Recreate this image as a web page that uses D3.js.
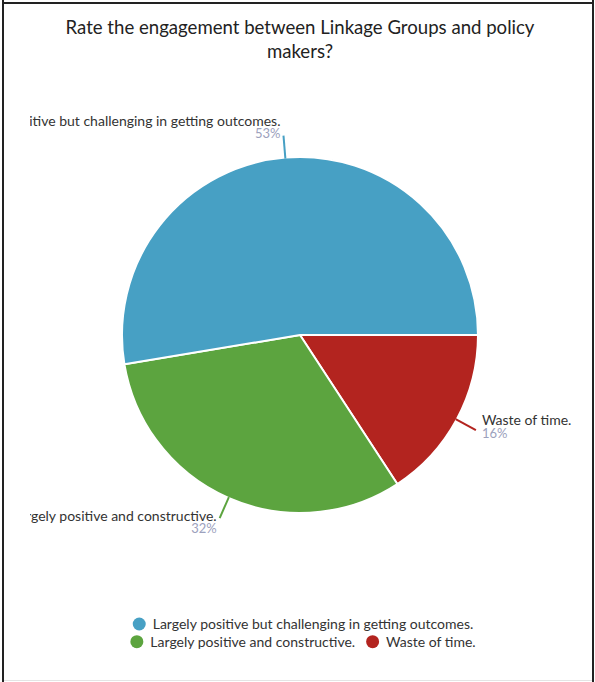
<!DOCTYPE html>
<html>
<head>
<meta charset="utf-8">
<script src="https://cdn.jsdelivr.net/npm/d3@7"></script>
<style>
  body { margin: 0; background: #fff; }
  svg { display: block; font-family: Lato, "Open Sans", sans-serif; }
</style>
</head>
<body>
<svg id="chart" width="595" height="682"></svg>
<script>
// data (10 / 6 / 3 answers -> 53% / 32% / 16%)
const categories = [
  "Waste of time.",
  "Largely positive and constructive.",
  "Largely positive but challenging in getting outcomes."
]
const counts = [3, 6, 10]
const colors = ["#b3241f", "#5ca43f", "#47a0c4"]
const legendOrder = [2, 1, 0]
const titleLines = ["Rate the engagement between Linkage Groups and policy", "makers?"]

const W = 595, H = 682
const cx = 300, cy = 335, R = 178

const svg = d3.select('#chart')

// frame round the picture
svg.append('line').attr('x1', 3).attr('y1', 0).attr('x2', 3).attr('y2', H)
  .attr('stroke', '#222').attr('stroke-width', 2)
svg.append('line').attr('x1', 593).attr('y1', 0).attr('x2', 593).attr('y2', H)
  .attr('stroke', '#222').attr('stroke-width', 2)
svg.append('line').attr('x1', 2).attr('y1', 3).attr('x2', 594).attr('y2', 3)
  .attr('stroke', '#222').attr('stroke-width', 2)
svg.append('line').attr('x1', 4).attr('y1', 680.5).attr('x2', 592).attr('y2', 680.5)
  .attr('stroke', '#e4e4e4').attr('stroke-width', 1)

// title
svg.append('text')
  .attr('text-anchor', 'middle')
  .attr('fill', '#222')
  .style('font-size', '18.6px')
  .selectAll('tspan')
  .data(titleLines)
  .join('tspan')
  .attr('x', 300)
  .attr('y', (d, i) => 34 + i * 24)
  .text(d => d)

const total = d3.sum(counts)
const color = d3.scaleOrdinal().domain(categories).range(colors)

const pie = d3.pie()
  .sort(null)
  .value(d => d.value)
  .startAngle(Math.PI / 2)
  .endAngle(Math.PI / 2 + 2 * Math.PI)

const rows = categories.map((c, i) => ({ name: c, value: counts[i] }))
const arcs = pie(rows)

const arc = d3.arc().innerRadius(0).outerRadius(R)

const g = svg.append('g').attr('transform', `translate(${cx},${cy})`)

g.selectAll('path.slice')
  .data(arcs)
  .join('path')
  .attr('class', 'slice')
  .attr('d', arc)
  .attr('fill', d => color(d.data.name))
  .attr('stroke', '#fff')
  .attr('stroke-width', 2)
  .attr('stroke-linejoin', 'round')

// labels get cut at the left edge like in the original
svg.append('clipPath').attr('id', 'cut')
  .append('rect').attr('x', 30 - cx).attr('y', -cy).attr('width', W).attr('height', H)

const lab = g.append('g').attr('clip-path', 'url(#cut)')

const mid = d => (d.startAngle + d.endAngle) / 2
const pt = (a, r) => [r * Math.sin(a), -r * Math.cos(a)]

lab.selectAll('line')
  .data(arcs)
  .join('line')
  .attr('x1', d => pt(mid(d), R - 1)[0])
  .attr('y1', d => pt(mid(d), R - 1)[1])
  .attr('x2', d => pt(mid(d), R + 22)[0])
  .attr('y2', d => pt(mid(d), R + 22)[1])
  .attr('stroke', d => color(d.data.name))
  .attr('stroke-width', 2)

lab.selectAll('g.lbl')
  .data(arcs)
  .join('g')
  .attr('class', 'lbl')
  .each(function (d) {
    const a = mid(d)
    const [ex, ey] = pt(a, R + 22)
    const right = Math.sin(a) >= 0
    const centre = ey - 8 * Math.cos(a) - 8 * Math.abs(Math.sin(a))
    const x = right ? ex + 6 : ex - 3
    const el = d3.select(this)
    el.append('text')
      .attr('x', x).attr('y', centre - 1.5)
      .attr('text-anchor', right ? 'start' : 'end')
      .attr('fill', '#333')
      .style('font-size', '14px')
      .text(d.data.name)
    el.append('text')
      .attr('x', x).attr('y', centre + 11)
      .attr('text-anchor', right ? 'start' : 'end')
      .attr('fill', '#9ca1bd')
      .style('font-size', '13px')
      .text(Math.round(d.data.value / total * 100) + '%')
  })

// legend, wrapped into rows and centred
const legend = svg.append('g')
const items = legendOrder.map(i => {
  const it = legend.append('g')
  it.append('circle').attr('r', 6.5).attr('cx', 6.5).attr('cy', 0).attr('fill', colors[i])
  it.append('text').attr('x', 20).attr('y', 5)
    .attr('fill', '#333').style('font-size', '14px')
    .text(categories[i])
  const w = 20 + it.select('text').node().getComputedTextLength()
  return { it, w }
})

const maxRow = 400, gap = 11
let legendRows = [[]], rowW = 0
items.forEach(item => {
  const cur = legendRows[legendRows.length - 1]
  const need = cur.length ? rowW + gap + item.w : item.w
  if (cur.length && need > maxRow) {
    legendRows.push([item])
    rowW = item.w
  } else {
    cur.push(item)
    rowW = need
  }
})

legendRows.forEach((row, r) => {
  const width = d3.sum(row, d => d.w) + gap * (row.length - 1)
  let x = 303 - width / 2
  row.forEach(item => {
    item.it.attr('transform', `translate(${x},${624 + r * 17.7})`)
    x += item.w + gap
  })
})
</script>
</body>
</html>
